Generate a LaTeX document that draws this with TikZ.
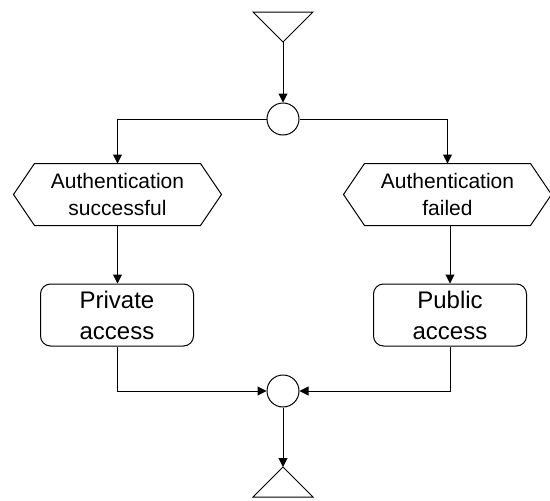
\documentclass[tikz,border=0pt]{standalone}
\usepackage{fontspec}
\setmainfont{Liberation Sans}
\usetikzlibrary{arrows.meta,calc}
\begin{document}
\begin{tikzpicture}[x=1pt,y=-1pt,
  line width=1pt,
  arr/.style={-{Triangle[length=9pt,width=9pt]}},
  junction/.style={circle,draw,minimum size=32pt,inner sep=0pt},
  hexlabel/.style={minimum width=165pt,minimum height=61pt,inner sep=0pt,align=center,font=\fontsize{21}{27}\selectfont},
  actbox/.style={draw,rounded corners=10pt,minimum width=153pt,minimum height=62pt,inner sep=0pt,align=center,font=\fontsize{24}{31}\selectfont}
]
\useasboundingbox (0,0) rectangle (550,501);
% start triangle
\coordinate (tin) at (283,42);
\draw (253,12) -- (313,12) -- (tin) -- cycle;
% top junction
\node[junction] (c1) at (283,119) {};
% condition hexagons
\node[hexlabel] (h1) at (117.5,194.5) {Authentication\\successful};
\node[hexlabel] (h2) at (447.5,194.5) {Authentication\\failed};
\foreach \h in {h1,h2}{
  \draw (\h.north west) -- (\h.north east) -- ($(\h.east)+(21,0)$) -- (\h.south east)
        -- (\h.south west) -- ($(\h.west)+(-21,0)$) -- cycle;
}
% activity boxes
\node[actbox] (p1) at (117,315) {Private\\access};
\node[actbox] (p2) at (450,315) {Public\\access};
% bottom junction
\node[junction] (c2) at (283,391) {};
% end triangle
\coordinate (tout) at (283,467);
\draw (tout) -- (313,497) -- (253,497) -- cycle;
% connectors
\draw[arr] (tin) -- (c1);
\draw[arr] (c1.west) -| (h1.north);
\draw[arr] (c1.east) -| (h2.north);
\draw[arr] (h1.south) -- (h1.south |- p1.north);
\draw[arr] (h2.south -| p2.north) -- (p2.north);
\draw[arr] (p1.south) |- (c2.west);
\draw[arr] (p2.south) |- (c2.east);
\draw[arr] (c2.south) -- (tout);
\end{tikzpicture}
\end{document}
